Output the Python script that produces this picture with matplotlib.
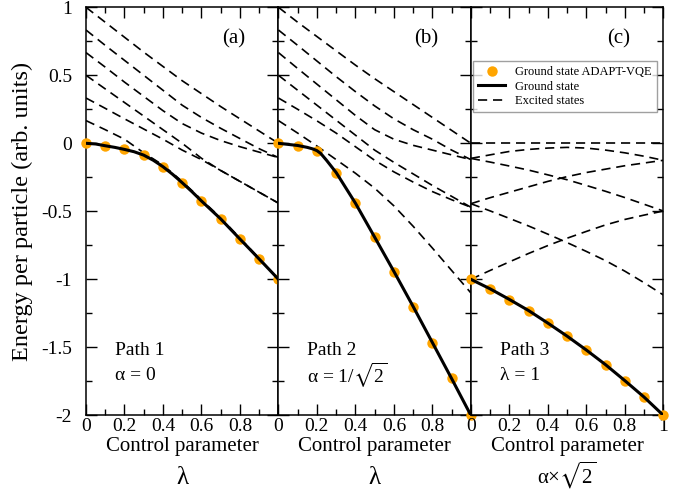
import matplotlib
matplotlib.use("Agg")
import matplotlib.pyplot as plt

plt.rcParams['font.family'] = ['Liberation Serif', 'DejaVu Serif']
plt.rcParams['mathtext.fontset'] = 'stix'
plt.rcParams['mathtext.default'] = 'regular'
plt.rcParams['axes.unicode_minus'] = False

# parameter grid (same 11 points on every path)
t = [0.0, 0.1, 0.2, 0.3, 0.4, 0.5, 0.6, 0.7, 0.8, 0.9, 1.0]

# Path 1 (alpha = 0)
gs1_vqe = [0.0, -0.02, -0.045, -0.087, -0.172, -0.29, -0.424, -0.556, -0.704, -0.851, -1.0]
gs1_t = [0.0, 0.05, 0.1, 0.15, 0.2, 0.25, 0.3, 0.35, 0.4, 0.45, 0.5, 0.55, 0.6, 0.65, 0.7, 0.75, 0.8, 0.85, 0.9, 0.95, 1.0]
gs1 = [0.0, -0.005, -0.018, -0.03, -0.045, -0.062, -0.087, -0.125, -0.172, -0.228, -0.29, -0.355, -0.424, -0.49, -0.556, -0.63, -0.704, -0.777, -0.851, -0.925, -1.0]
ex1 = [
    [1.0, 0.89, 0.78, 0.67, 0.565, 0.46, 0.365, 0.27, 0.18, 0.09, 0.0],
    [0.833, 0.72, 0.61, 0.5, 0.39, 0.28, 0.19, 0.11, 0.035, -0.04, -0.105],
    [0.667, 0.56, 0.45, 0.345, 0.24, 0.145, 0.075, 0.02, -0.025, -0.065, -0.105],
    [0.5, 0.4, 0.3, 0.2, 0.1, 0.0, -0.11, -0.2, -0.28, -0.36, -0.44],
    [0.333, 0.257, 0.18, 0.105, 0.03, -0.05, -0.12, -0.2, -0.28, -0.36, -0.44],
    [0.167, 0.1, 0.03, -0.07, -0.16, -0.28, -0.415, -0.548, -0.697, -0.846, -1.0],
]

# Path 2 (alpha = 1/sqrt2)
gs2_vqe = [0.0, -0.018, -0.054, -0.216, -0.441, -0.687, -0.944, -1.201, -1.466, -1.728, -2.0]
gs2_t = [0.0, 0.1, 0.15, 0.18, 0.2, 0.22, 0.25, 0.3, 0.4, 0.5, 0.6, 0.7, 0.8, 0.9, 1.0]
gs2 = [0.0, -0.016, -0.03, -0.042, -0.054, -0.075, -0.125, -0.215, -0.44, -0.69, -0.942, -1.2, -1.465, -1.73, -2.0]
ex2 = [
    [1.0, 0.89, 0.785, 0.68, 0.575, 0.475, 0.38, 0.285, 0.19, 0.095, 0.0],
    [0.833, 0.72, 0.605, 0.49, 0.38, 0.275, 0.18, 0.1, 0.03, -0.05, -0.12],
    [0.667, 0.55, 0.435, 0.32, 0.205, 0.1, 0.03, -0.015, -0.05, -0.085, -0.12],
    [0.5, 0.39, 0.28, 0.17, 0.06, -0.05, -0.14, -0.225, -0.31, -0.39, -0.47],
    [0.333, 0.25, 0.165, 0.075, -0.025, -0.125, -0.21, -0.285, -0.355, -0.415, -0.47],
    [0.167, 0.075, -0.02, -0.12, -0.22, -0.33, -0.46, -0.61, -0.77, -0.935, -1.1],
]

# Path 3 (lambda = 1)
gs3_vqe = [-1.0, -1.07, -1.15, -1.23, -1.32, -1.42, -1.52, -1.63, -1.745, -1.865, -2.0]
gs3 = [-1.0, -1.07, -1.148, -1.23, -1.322, -1.418, -1.52, -1.628, -1.745, -1.866, -2.0]
ex3 = [
    [0.0, 0.0, 0.0, 0.0, 0.0, 0.0, 0.0, 0.0, 0.0, 0.0, 0.0],
    [-0.111, -0.085, -0.06, -0.045, -0.035, -0.03, -0.035, -0.05, -0.07, -0.095, -0.125],
    [-0.111, -0.138, -0.167, -0.197, -0.232, -0.268, -0.31, -0.353, -0.399, -0.448, -0.498],
    [-0.444, -0.4, -0.36, -0.32, -0.28, -0.245, -0.215, -0.19, -0.165, -0.145, -0.125],
    [-0.444, -0.497, -0.552, -0.608, -0.668, -0.73, -0.795, -0.863, -0.94, -1.025, -1.115],
    [-1.0, -0.935, -0.872, -0.81, -0.752, -0.698, -0.648, -0.6, -0.56, -0.528, -0.498],
]

y_ticks = [-2, -1.5, -1, -0.5, 0, 0.5, 1]
y_tick_labels = ['-2', '-1.5', '-1', '-0.5', '0', '0.5', '1']
x_ticks = [0, 0.2, 0.4, 0.6, 0.8, 1.0]
x_tick_labels_ab = ['0', '0.2', '0.4', '0.6', '0.8', '']
x_tick_labels_c = ['0', '0.2', '0.4', '0.6', '0.8', '1']

panel_tags = ['(a)', '(b)', '(c)']
path_names = ['Path 1', 'Path 2', 'Path 3']
path_params = ['α = 0', r'α = 1/$\sqrt{2}$', 'λ = 1']
x_symbols = ['λ', 'λ', r'α×$\sqrt{2}$']
x_symbol_sizes = [18, 18, 15]

orange = '#FFA500'

fig = plt.figure(figsize=(6.89, 4.90), dpi=100)
W, H = 689.0, 490.0
left, right, top, bottom = 86.0, 663.3, 7.3, 415.3
pw = (right - left) / 3

panels = [
    (gs1_t, gs1, gs1_vqe, ex1, x_tick_labels_ab),
    (gs2_t, gs2, gs2_vqe, ex2, x_tick_labels_ab),
    (t, gs3, gs3_vqe, ex3, x_tick_labels_c),
]

for i, (gt, gs, vqe, ex, xtl) in enumerate(panels):
    ax = fig.add_axes([(left + i * pw) / W, 1 - bottom / H, pw / W, (bottom - top) / H])
    for k, e in enumerate(ex):
        ax.plot(t, e, color='black', lw=1.2, ls=(0, (5.5, 3.5)),
                label='Excited states' if k == 0 else None)
    ax.plot(t, vqe, 'o', color=orange, ms=7.5, mec='none', clip_on=False, zorder=3,
            label='Ground state ADAPT-VQE')
    ax.plot(gt, gs, color='black', lw=2.2, zorder=4, label='Ground state')

    ax.set_xlim(0, 1)
    ax.set_ylim(-2, 1)
    ax.set_xticks(x_ticks)
    ax.set_xticklabels(xtl, fontsize=14)
    ax.set_xticks([0.1, 0.3, 0.5, 0.7, 0.9], minor=True)
    ax.set_yticks(y_ticks)
    ax.set_yticks([-1.75, -1.25, -0.75, -0.25, 0.25, 0.75], minor=True)
    if i == 0:
        ax.set_yticklabels(y_tick_labels, fontsize=14)
    else:
        ax.set_yticklabels([])
    ax.tick_params(which='both', direction='in', top=True, right=True, width=1.0)
    ax.tick_params(which='major', length=8)
    ax.tick_params(which='minor', length=4)
    ax.tick_params(axis='x', which='major', pad=2)
    ax.tick_params(axis='y', which='major', pad=10)
    for s in ax.spines.values():
        s.set_linewidth(1.1)

    ax.text(0.77, 0.767, panel_tags[i], fontsize=15, ha='center', va='center')
    ax.text(0.15, -1.52, path_names[i], fontsize=14, ha='left', va='center')
    ax.text(0.15, -1.71, path_params[i], fontsize=14, ha='left', va='center')
    ax.text(0.5, -0.087, 'Control parameter', transform=ax.transAxes, fontsize=15,
            ha='center', va='baseline')
    ax.text(0.5, -0.168, x_symbols[i], transform=ax.transAxes, fontsize=x_symbol_sizes[i],
            ha='center', va='baseline')

    if i == 2:
        handles, labels = ax.get_legend_handles_labels()
        order = [labels.index('Ground state ADAPT-VQE'), labels.index('Ground state'), labels.index('Excited states')]
        leg = ax.legend([handles[j] for j in order], [labels[j] for j in order],
                        loc='upper left', bbox_to_anchor=(0.01, 0.868), fontsize=9,
                        frameon=True, fancybox=False, handlelength=2.2,
                        borderpad=0.4, labelspacing=0.2, borderaxespad=0)
        leg.get_frame().set_edgecolor('#888888')
        leg.get_frame().set_linewidth(1.0)

fig.text(22 / W, 1 - 211 / H, 'Energy per particle (arb. units)', rotation=90,
         fontsize=17.5, ha='center', va='center')

fig.savefig('out.png', dpi=100)
